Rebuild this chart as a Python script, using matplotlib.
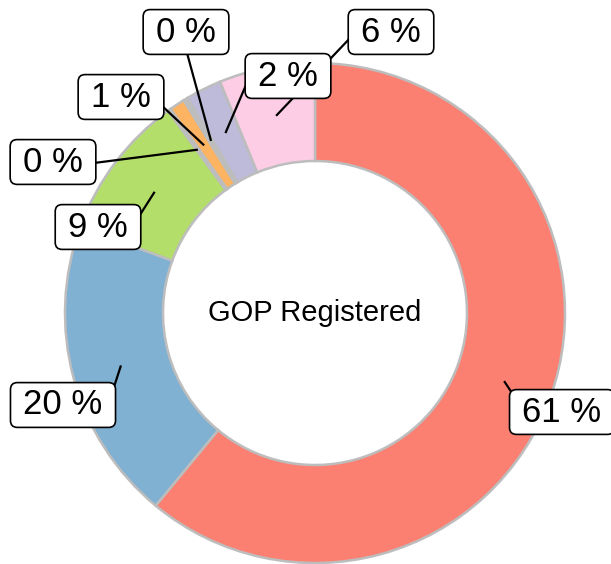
import matplotlib
matplotlib.use("Agg")
import matplotlib.pyplot as plt
import numpy as np

plt.rcParams['font.family'] = ['Liberation Sans', 'DejaVu Sans']

# Data (clockwise from 12 o'clock)
labels = ["61 %", "20 %", "9 %", "0 %", "1 %", "0 %", "2 %", "6 %"]
values = [61.0, 19.6, 9.4, 0.2, 1.0, 0.3, 2.3, 6.2]
colors = ["#fb8072", "#80b1d3", "#b3de69", "#bdbdbd", "#fdb462", "#bdbdbd", "#bebada", "#fccde5"]
center_text = "GOP Registered"

# Layout: label box centres and leader end points (pixels from top-left of figure)
label_px = [(562, 412), (63, 405), (98, 227), (53, 162), (121, 97), (186, 32), (288, 76), (391, 32)]
leader_end_px = [(518, 402), (113, 390), (138, 218), (94, 163), (160, 104), (187, 53), (249, 78), (352, 36)]

W, H = 611, 564
CX, CY, R = 315, 313, 250  # pie centre and radius in pixels


def px2data(p):
    return ((p[0] - CX) / R, (CY - p[1]) / R)


fig = plt.figure(figsize=(W / 100, H / 100), dpi=100)
ax = fig.add_axes([0, 0, 1, 1])
ax.axis('off')

ring = 0.392
wedges, _ = ax.pie(values, radius=1.0, startangle=90, counterclock=False,
                   colors=colors,
                   wedgeprops=dict(width=ring, edgecolor='#bdbdbd', linewidth=1.8))
ax.set_aspect('auto')
ax.set_xlim(-CX / R, (W - CX) / R)
ax.set_ylim(-(H - CY) / R, CY / R)

ax.text(0, 0, center_text, ha='center', va='center', fontsize=21, color='black')

total = sum(values)
cum = np.cumsum([0] + values)
rmid = 1.0 - ring / 2
for i, lab in enumerate(labels):
    frac = (cum[i] + values[i] / 2) / total
    theta = 2 * np.pi * frac
    start = (rmid * np.sin(theta), rmid * np.cos(theta))
    end = px2data(leader_end_px[i])
    ax.plot([start[0], end[0]], [start[1], end[1]], color='black', lw=1.6,
            solid_capstyle='butt', zorder=5)

for i, lab in enumerate(labels):
    pos = px2data(label_px[i])
    ax.text(pos[0], pos[1], "\u2009" + lab + "\u2009", ha='center', va='center',
            fontsize=25, color='black', zorder=10,
            bbox=dict(boxstyle='round,pad=0.17,rounding_size=0.2', fc='white',
                      ec='black', lw=1.2))

fig.savefig("out.png", dpi=100)
